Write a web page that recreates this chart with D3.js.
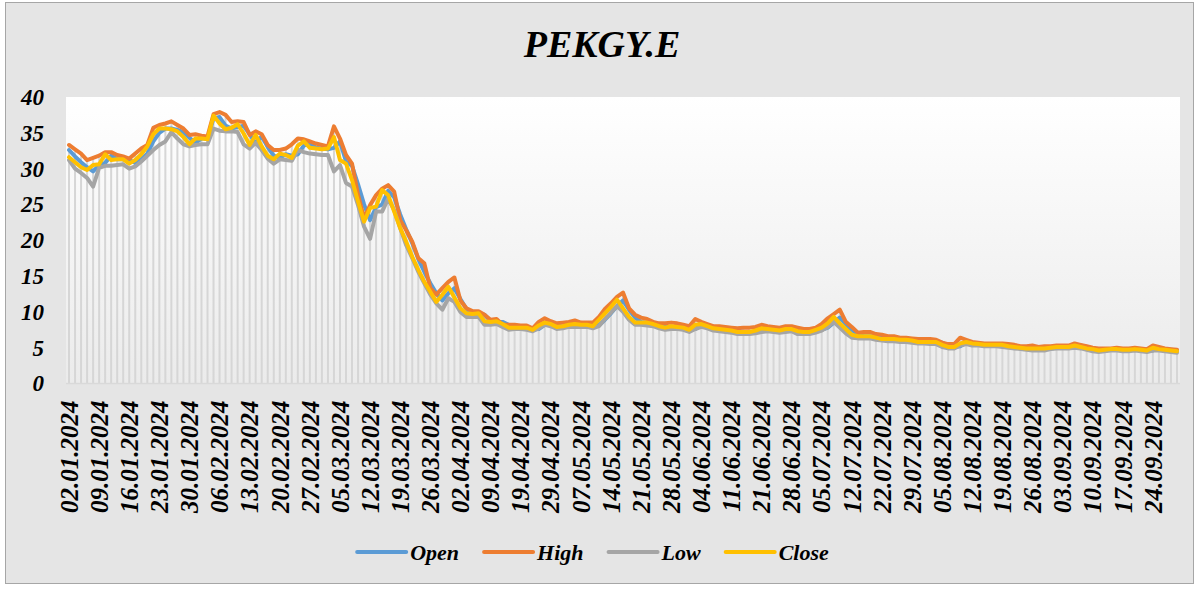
<!DOCTYPE html>
<html>
<head>
<meta charset="utf-8">
<script src="https://cdn.jsdelivr.net/npm/d3@7/dist/d3.min.js"></script>
<style>
  html, body { margin: 0; padding: 0; background: #fff; }
  svg text { font-family: "Liberation Serif", "Times New Roman", serif; font-weight: bold; font-style: italic; fill: #000; }
</style>
</head>
<body>
<svg id="chart" width="1199" height="590"></svg>
<script>
// ─── PEKGY.E daily prices, Jan–Sep 2024 ───────────────────────
// trading days per month (Borsa Istanbul calendar, holidays left out)
const tradingDays = [
  [2,3,4,5,8,9,10,11,12,15,16,17,18,19,22,23,24,25,26,29,30,31],
  [1,2,5,6,7,8,9,12,13,14,15,16,19,20,21,22,23,26,27,28,29],
  [1,4,5,6,7,8,11,12,13,14,15,18,19,20,21,22,25,26,27,28,29],
  [1,2,3,4,5,8,9,15,16,17,18,19,22,24,25,26,29,30],
  [2,3,6,7,8,9,10,13,14,15,16,17,20,21,22,23,24,27,28,29,30,31],
  [3,4,5,6,7,10,11,12,13,14,20,21,24,25,26,27,28],
  [1,2,3,4,5,8,9,10,11,12,16,17,18,19,22,23,24,25,26,29,30,31],
  [1,2,5,6,7,8,9,12,13,14,15,16,19,20,21,22,23,26,27,28,29],
  [2,3,4,5,6,9,10,11,12,13,16,17,18,19,20,23,24,25,26,27,30]
];
const pad = n => String(n).padStart(2, '0');
const dates = tradingDays.flatMap((days, m) => days.map(d => `${pad(d)}.${pad(m + 1)}.2024`));

const open = [
  32.6, 31.7, 30.9, 30.2, 29.6, 30.5, 30.8, 31.8, 31.3, 31.3, 31.2, 30.8, 31.3, 32.1, 33.8, 35.0, 35.6, 35.6, 35.4, 35.1,
  34.3, 33.6, 34.2, 34.2, 37.0, 37.2, 36.0, 35.6, 35.8, 36.0, 34.8, 33.5, 34.5, 33.0, 31.8, 31.5, 32.0, 31.8, 32.0, 33.2,
  33.6, 32.9, 32.8, 32.7, 32.9, 33.8, 31.0, 30.4, 27.8, 25.0, 22.8, 24.6, 25.0, 26.9, 26.0, 23.6, 21.5, 19.6, 17.4, 15.6,
  14.0, 12.6, 11.6, 12.6, 13.3, 11.8, 10.4, 9.9, 9.7, 9.6, 8.7, 8.6, 8.6, 8.2, 7.8, 7.8, 7.8, 7.7, 7.6, 8.2,
  8.5, 8.2, 7.9, 8.0, 8.2, 8.3, 8.2, 8.2, 8.1, 8.9, 9.8, 10.8, 11.6, 10.3, 9.2, 8.6, 8.5, 8.5, 8.3, 8.0,
  7.8, 8.0, 7.9, 7.8, 7.6, 8.2, 8.2, 7.9, 7.7, 7.6, 7.5, 7.4, 7.2, 7.2, 7.2, 7.4, 7.7, 7.6, 7.5, 7.4,
  7.6, 7.5, 7.3, 7.2, 7.2, 7.5, 7.8, 8.5, 9.2, 8.3, 7.5, 6.8, 6.6, 6.6, 6.6, 6.4, 6.2, 6.2, 6.2, 6.1,
  6.1, 6.0, 5.8, 5.8, 5.8, 5.7, 5.3, 5.1, 5.2, 5.7, 5.7, 5.6, 5.5, 5.4, 5.4, 5.4, 5.4, 5.2, 5.1, 5.0,
  4.9, 4.9, 4.9, 4.9, 5.0, 5.1, 5.1, 5.1, 5.3, 5.1, 4.9, 4.8, 4.6, 4.7, 4.8, 4.8, 4.7, 4.7, 4.8, 4.7,
  4.6, 5.0, 4.8, 4.7, 4.6
];
const high = [
  33.3, 32.7, 32.1, 31.2, 31.5, 31.8, 32.3, 32.3, 31.9, 31.7, 31.4, 32.1, 32.8, 33.3, 35.7, 36.1, 36.3, 36.6, 36.1, 35.6,
  34.7, 34.8, 34.6, 34.5, 37.6, 37.9, 37.5, 36.5, 36.6, 36.5, 34.7, 35.2, 34.8, 33.3, 32.6, 32.6, 32.8, 33.4, 34.2, 34.1,
  33.8, 33.5, 33.3, 33.1, 35.9, 34.2, 31.9, 30.7, 26.3, 23.1, 24.9, 26.3, 27.2, 27.7, 26.8, 22.8, 21.4, 19.8, 17.5, 16.8,
  13.3, 12.4, 13.3, 14.2, 14.8, 11.6, 10.5, 10.1, 10.1, 9.6, 8.9, 9.0, 8.2, 8.2, 8.2, 8.1, 8.1, 7.7, 8.6, 9.1,
  8.7, 8.4, 8.5, 8.6, 8.8, 8.5, 8.5, 8.5, 9.3, 10.4, 11.2, 12.1, 12.7, 10.5, 9.6, 9.2, 9.0, 8.6, 8.4, 8.4,
  8.5, 8.4, 8.2, 8.0, 9.0, 8.6, 8.3, 8.0, 8.0, 7.9, 7.8, 7.7, 7.8, 7.8, 7.9, 8.2, 8.0, 7.9, 7.8, 8.0,
  8.0, 7.8, 7.6, 7.6, 7.8, 8.3, 9.1, 9.7, 10.3, 8.6, 7.9, 7.1, 7.2, 7.2, 6.9, 6.8, 6.6, 6.6, 6.4, 6.4,
  6.3, 6.2, 6.2, 6.2, 6.1, 5.7, 5.5, 5.5, 6.4, 6.1, 5.8, 5.7, 5.6, 5.6, 5.6, 5.6, 5.5, 5.4, 5.2, 5.2,
  5.3, 5.1, 5.2, 5.2, 5.3, 5.3, 5.3, 5.6, 5.4, 5.2, 5.0, 4.9, 4.9, 4.9, 5.0, 4.9, 4.9, 5.0, 4.9, 4.8,
  5.3, 5.1, 4.9, 4.8, 4.7
];
const low = [
  31.2, 30.0, 29.4, 28.7, 27.5, 30.1, 30.4, 30.4, 30.5, 30.6, 30.0, 30.3, 31.0, 31.8, 32.6, 33.3, 33.8, 35.1, 34.2, 33.4,
  33.1, 33.3, 33.4, 33.4, 35.6, 35.3, 35.2, 35.2, 35.1, 33.4, 32.8, 33.6, 32.6, 31.4, 30.7, 31.3, 31.2, 31.1, 32.6, 32.3,
  32.1, 32.0, 31.9, 31.9, 29.6, 30.5, 28.0, 27.5, 24.9, 21.9, 20.2, 24.0, 24.0, 25.8, 24.2, 21.7, 19.3, 17.5, 15.6, 14.0,
  12.4, 11.2, 10.3, 11.9, 11.4, 10.0, 9.3, 9.3, 9.3, 8.2, 8.2, 8.3, 7.9, 7.5, 7.6, 7.6, 7.5, 7.3, 7.7, 8.2,
  8.0, 7.6, 7.7, 7.9, 7.9, 7.9, 7.9, 7.7, 8.0, 9.0, 9.9, 10.8, 10.0, 8.9, 8.2, 8.2, 8.1, 8.0, 7.7, 7.5,
  7.6, 7.6, 7.5, 7.2, 7.6, 7.9, 7.7, 7.4, 7.3, 7.2, 7.1, 6.9, 6.9, 6.9, 7.0, 7.2, 7.3, 7.2, 7.1, 7.2,
  7.3, 6.9, 6.9, 6.9, 7.1, 7.4, 7.9, 8.6, 7.8, 7.0, 6.4, 6.3, 6.3, 6.3, 6.1, 6.0, 5.9, 5.9, 5.8, 5.8,
  5.7, 5.6, 5.6, 5.5, 5.5, 5.1, 4.9, 4.9, 5.3, 5.5, 5.3, 5.3, 5.2, 5.2, 5.2, 5.1, 5.0, 4.9, 4.8, 4.7,
  4.6, 4.6, 4.6, 4.8, 4.9, 4.9, 4.9, 5.0, 4.9, 4.7, 4.5, 4.4, 4.5, 4.6, 4.6, 4.5, 4.5, 4.6, 4.5, 4.4,
  4.6, 4.6, 4.5, 4.4, 4.3
];
const close = [
  31.6, 30.9, 30.2, 29.8, 30.5, 30.6, 32.0, 31.2, 31.3, 31.3, 30.7, 31.2, 32.0, 33.1, 34.8, 35.6, 35.6, 35.5, 35.2, 34.4,
  33.4, 34.2, 34.2, 34.1, 37.4, 36.3, 35.5, 35.7, 36.2, 34.9, 33.3, 34.7, 33.1, 31.8, 31.3, 32.1, 31.9, 31.5, 33.2, 33.8,
  32.9, 32.8, 32.7, 32.8, 34.4, 31.2, 30.7, 28.4, 25.4, 22.6, 24.5, 24.7, 27.0, 26.3, 24.0, 21.7, 19.8, 17.7, 15.9, 14.2,
  12.8, 11.4, 12.4, 13.5, 12.0, 10.5, 9.8, 9.7, 9.8, 8.7, 8.6, 8.7, 8.3, 7.8, 7.8, 7.8, 7.8, 7.5, 8.1, 8.5,
  8.3, 7.9, 8.0, 8.2, 8.3, 8.2, 8.2, 8.0, 8.9, 9.8, 10.7, 11.7, 10.5, 9.3, 8.5, 8.5, 8.5, 8.3, 8.0, 7.8,
  8.0, 7.9, 7.8, 7.5, 8.2, 8.3, 8.0, 7.7, 7.6, 7.5, 7.4, 7.2, 7.2, 7.2, 7.4, 7.7, 7.6, 7.5, 7.4, 7.6,
  7.6, 7.3, 7.2, 7.2, 7.5, 7.8, 8.4, 9.3, 8.4, 7.6, 6.8, 6.6, 6.6, 6.6, 6.4, 6.2, 6.2, 6.2, 6.1, 6.1,
  6.0, 5.8, 5.8, 5.8, 5.8, 5.4, 5.1, 5.1, 5.6, 5.8, 5.6, 5.5, 5.4, 5.4, 5.4, 5.4, 5.2, 5.1, 5.0, 4.9,
  4.9, 4.9, 4.9, 5.0, 5.1, 5.1, 5.1, 5.3, 5.1, 4.9, 4.8, 4.6, 4.7, 4.8, 4.8, 4.7, 4.7, 4.8, 4.7, 4.6,
  5.0, 4.8, 4.7, 4.6, 4.5
];
const yTicks = [0, 5, 10, 15, 20, 25, 30, 35, 40];

const series = [
  { name: 'Open',  values: open,  color: '#5B9BD5' },
  { name: 'High',  values: high,  color: '#ED7D31' },
  { name: 'Low',   values: low,   color: '#A5A5A5' },
  { name: 'Close', values: close, color: '#FFC000' }
];

const W = 1199, H = 590;
const plot = { left: 66, right: 1180, top: 97, bottom: 383.5 };
const svg = d3.select('#chart');

// gradients
const defs = svg.append('defs');
const grad = defs.append('linearGradient').attr('id', 'plotBg')
  .attr('x1', 0).attr('y1', 0).attr('x2', 0).attr('y2', 1);
grad.append('stop').attr('offset', '0%').attr('stop-color', '#ffffff');
grad.append('stop').attr('offset', '100%').attr('stop-color', '#ebebeb');

// chart background + frame
svg.append('rect').attr('x', 0).attr('y', 0).attr('width', W).attr('height', H).attr('fill', '#ffffff');
svg.append('rect').attr('x', 5.5).attr('y', 2.5).attr('width', 1188).attr('height', 581)
  .attr('fill', '#e5e5e5').attr('stroke', '#a6a6a6').attr('stroke-width', 1);

// plot area
svg.append('rect').attr('x', plot.left).attr('y', plot.top)
  .attr('width', plot.right - plot.left).attr('height', plot.bottom - plot.top)
  .attr('fill', 'url(#plotBg)');

const x = d3.scaleBand().domain(dates).range([plot.left, plot.right]).padding(0);
const y = d3.scaleLinear().domain([0, 40]).range([plot.bottom, plot.top]);
const cx = d => x(d) + x.bandwidth() / 2;

// drop lines (one per trading day, up to the day's high)
svg.append('g').selectAll('line')
  .data(dates)
  .enter().append('line')
  .attr('x1', d => cx(d)).attr('x2', d => cx(d))
  .attr('y1', y(0)).attr('y2', (d, i) => y(high[i]))
  .attr('stroke', '#d6d6d6').attr('stroke-width', 2);

// category axis line
svg.append('line')
  .attr('x1', plot.left).attr('x2', plot.right)
  .attr('y1', y(0)).attr('y2', y(0))
  .attr('stroke', '#d9d9d9').attr('stroke-width', 1.5);

// series
const line = d3.line()
  .x((v, i) => cx(dates[i]))
  .y(v => y(v))
  .curve(d3.curveLinear);

series.forEach(s => {
  svg.append('path')
    .datum(s.values)
    .attr('d', line)
    .attr('fill', 'none')
    .attr('stroke', s.color)
    .attr('stroke-width', 4)
    .attr('stroke-linejoin', 'round')
    .attr('stroke-linecap', 'round');
});

// y axis
const yAxis = svg.append('g')
  .attr('transform', `translate(${plot.left},0)`)
  .call(d3.axisLeft(y).tickValues(yTicks).tickSize(0).tickPadding(22));
yAxis.select('.domain').remove();
yAxis.selectAll('text')
  .style('font-family', '"Liberation Serif", serif')
  .style('font-size', '23px').style('font-weight', 'bold').style('font-style', 'italic')
  .attr('fill', '#000');

// x axis labels, every 5th trading day
const xAxis = svg.append('g')
  .attr('transform', `translate(0,${plot.bottom})`)
  .call(d3.axisBottom(x).tickValues(dates.filter((d, i) => i % 5 === 0)).tickSize(0));
xAxis.select('.domain').remove();
xAxis.selectAll('text')
  .attr('y', 0).attr('x', 0).attr('dy', '0.35em')
  .attr('transform', 'translate(0,17) rotate(-90)')
  .style('text-anchor', 'end')
  .style('font-family', '"Liberation Serif", serif')
  .style('font-size', '25px').style('font-weight', 'bold').style('font-style', 'italic')
  .attr('fill', '#000');

// title
svg.append('text')
  .attr('x', 602).attr('y', 57)
  .attr('text-anchor', 'middle')
  .style('font-size', '38px')
  .text('PEKGY.E');

// legend
const legend = svg.append('g');
let lx = 0;
series.forEach(s => {
  const g = legend.append('g').attr('transform', `translate(${lx},0)`);
  g.append('line').attr('x1', 2).attr('x2', 51).attr('y1', 0).attr('y2', 0)
    .attr('stroke', s.color).attr('stroke-width', 4).attr('stroke-linecap', 'round');
  const t = g.append('text').attr('x', 55).attr('y', 7.5)
    .style('font-size', '22px').text(s.name);
  lx += 55 + t.node().getComputedTextLength() + 23;
});
const legendW = lx - 23;
legend.attr('transform', `translate(${592 - legendW / 2},552)`);
</script>
</body>
</html>
